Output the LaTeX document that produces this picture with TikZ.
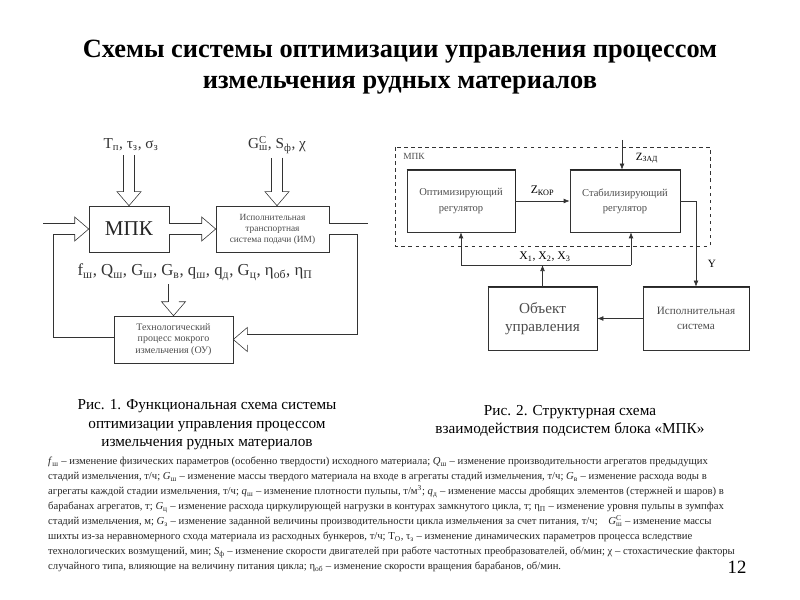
\documentclass[tikz,border=0pt]{standalone}
\usepackage{fontspec}
\setmainfont{Liberation Serif}
\usetikzlibrary{positioning,calc,arrows.meta}
\newcommand\fvar[2]{\textit{#1}\textsubscript{#2}}
\tikzset{hhead/.pic={\draw[black!80,line width=0.5pt] (-14,-5.3) -- (-14,-12) -- (0,0) -- (-14,12) -- (-14,5.3);}}

\begin{document}
\begin{tikzpicture}[x=0.3mm,y=-0.3mm,
box/.style={draw=black!80,rectangle,line width=0.5pt,inner sep=1pt,align=center,text=black!70},
hollow/.style={draw=black!80,double=white,double distance=3mm,line width=0.5pt},
sig/.style={draw=black!80,line width=0.5pt,-{Latex[length=1.8mm,width=1.4mm]}},
lbl/.style={font=\fontsize{13}{15}\selectfont,text=black!80}]
\useasboundingbox (0,0) rectangle (800,600);

\node (title) at (400,67) [align=center,font=\bfseries\fontsize{22.5}{26}\selectfont]
  {Схемы системы оптимизации управления процессом\\измельчения рудных материалов};

% Рис. 1
\node (tin) at (131,145) [lbl] {T\textsubscript{п}, τ\textsubscript{з}, σ\textsubscript{з}};
\node (gin) at (277,145) [lbl] {G\rlap{\textsuperscript{С}}\textsubscript{ш}, S\textsubscript{ф}, χ};
\node (mpk) at (129,229) [box,minimum width=24mm,minimum height=13.8mm,
    font=\fontsize{18}{20}\selectfont,text=black!85] {МПК};
\node (im) at (272.5,229) [box,minimum width=33.9mm,minimum height=13.8mm,
    font=\fontsize{8}{9.4}\selectfont] {Исполнительная\\транспортная\\система подачи (ИМ)};
\node (fout) at (195,272) [lbl,font=\fontsize{14.3}{16}\selectfont] {f\textsubscript{ш}, Q\textsubscript{ш}, G\textsubscript{ш}, G\textsubscript{в},
    q\textsubscript{ш}, q\textsubscript{д}, G\textsubscript{ц}, η\textsubscript{об}, η\textsubscript{П}};
\node (ou) at (173.5,339.5) [box,minimum width=35.7mm,minimum height=14.1mm,
    font=\fontsize{8.5}{9.8}\selectfont] {Технологический\\процесс мокрого\\измельчения (ОУ)};

\draw[hollow] (tin.south -| mpk.north) -- ($(mpk.north)+(0,-14)$);
\path (mpk.north) pic[rotate=-90]{hhead};
\draw[hollow] (gin.south) -- ($(gin.south |- im.north)+(0,-14)$);
\path (gin.south |- im.north) pic[rotate=-90]{hhead};
\draw[hollow] (mpk.east) -- ($(im.west)+(-14,0)$);
\path (im.west) pic{hhead};
\draw[hollow] (ou.north |- fout.south) -- ($(ou.north)+(0,-14)$);
\path (ou.north) pic[rotate=-90]{hhead};
\draw[hollow] (im.east) -- ++(33.5,0) |- ($(ou.east)+(14,0)$);
\path (ou.east) pic[rotate=180]{hhead};
\draw[hollow] ($(ou.west)+(0,3)$) -| ($(mpk.west)+(-40.5,0)$) -- ($(mpk.west)+(-14,0)$);
\path (mpk.west) pic{hhead};

\node (cap1) at (207,425) [align=center,font=\fontsize{13}{15.8}\selectfont]
  {Рис. 1. Функциональная схема системы\\оптимизации управления процессом\\измельчения рудных материалов};

% Рис. 2
\draw[black!80,dashed,line width=0.5pt] (395,147) rectangle (710,246);
\node (mpklbl) at (414,156) [font=\fontsize{8}{9}\selectfont,text=black!70] {МПК};
\node (opt) at (461,201) [box,minimum width=32.4mm,minimum height=18.6mm,
    font=\fontsize{9}{13}\selectfont] {Оптимизирующий\\регулятор};
\node (stab) at (625,201) [box,minimum width=33mm,minimum height=18.6mm,
    font=\fontsize{9}{13}\selectfont] {Стабилизирующий\\регулятор};
\node (obj) at (542.5,318.5) [box,minimum width=32.7mm,minimum height=18.9mm,
    font=\fontsize{13}{15.5}\selectfont] {Объект\\управления};
\node (isp) at (696,318.5) [box,minimum width=31.8mm,minimum height=18.9mm,
    font=\fontsize{9.5}{12.8}\selectfont] {Исполнительная\\система};
\foreach \b in {opt,stab,obj,isp}
  \draw[black!85,line width=1.1pt] (\b.north west) -- (\b.north east) -- (\b.south east);

\coordinate (zin) at (622,140);
\coordinate (xl) at (461,265);
\coordinate (xr) at (631,265);
\draw[sig] (opt) -- (stab) node[midway,above=1pt,font=\fontsize{10}{12}\selectfont] {Z\textsubscript{КОР}};
\draw[sig] (zin) -- (zin |- stab.north);
\node (zzad) at (647,158) [font=\fontsize{9.5}{11}\selectfont] {Z\textsubscript{ЗАД}};
\draw[sig] (stab.east) -| (isp.north);
\node (ylbl) at (712,264) [font=\fontsize{9.5}{11}\selectfont] {Y};
\draw[black!80,line width=0.5pt] (xl) -- (xr);
\draw[sig] (xl) -- (opt.south);
\draw[sig] (xr) -- (xr |- stab.south);
\draw[sig] (obj.north) -- (obj.north |- xl);
\node (xlbl) at (545,257) [font=\fontsize{10}{12}\selectfont] {X\textsubscript{1}, X\textsubscript{2}, X\textsubscript{3}};
\draw[sig] (isp.west) -- (obj.east);

\node (cap2) at (570,421) [align=center,font=\fontsize{13}{15.8}\selectfont]
  {Рис. 2. Структурная схема\\взаимодействия подсистем блока «МПК»};

% пояснения
\node (notes) at (48,457) [anchor=north west,align=left,inner sep=0pt,text=black!85,
    font=\fontsize{9.1}{12.8}\selectfont]
  {\fvar{f}{ш} – изменение физических параметров (особенно твердости) исходного материала; \fvar{Q}{ш} – изменение производительности агрегатов предыдущих\\
   стадий измельчения, т/ч; \fvar{G}{ш} – изменение массы твердого материала на входе в агрегаты стадий измельчения, т/ч; \fvar{G}{в} – изменение расхода воды в\\
   агрегаты каждой стадии измельчения, т/ч; \fvar{q}{ш} – изменение плотности пульпы, т/м\textsuperscript{3}; \fvar{q}{д} – изменение массы дробящих элементов (стержней и шаров) в\\
   барабанах агрегатов, т; \fvar{G}{ц} – изменение расхода циркулирующей нагрузки в контурах замкнутого цикла, т; η\textsubscript{П} – изменение уровня пульпы в зумпфах\\
   стадий измельчения, м; \fvar{G}{з} – изменение заданной величины производительности цикла измельчения за счет питания, т/ч;\quad \textit{G}\rlap{\textsuperscript{С}}\textsubscript{ш} – изменение массы\\
   шихты из-за неравномерного схода материала из расходных бункеров, т/ч; T\textsubscript{О}, τ\textsubscript{з} – изменение динамических параметров процесса вследствие\\
   технологических возмущений, мин; \fvar{S}{ф} – изменение скорости двигателей при работе частотных преобразователей, об/мин; χ – стохастические факторы\\
   случайного типа, влияющие на величину питания цикла; η\textsubscript{об} – изменение скорости вращения барабанов, об/мин.};
\node (pnum) at (737,567) [font=\fontsize{16}{18}\selectfont] {12};
\end{tikzpicture}
\end{document}
